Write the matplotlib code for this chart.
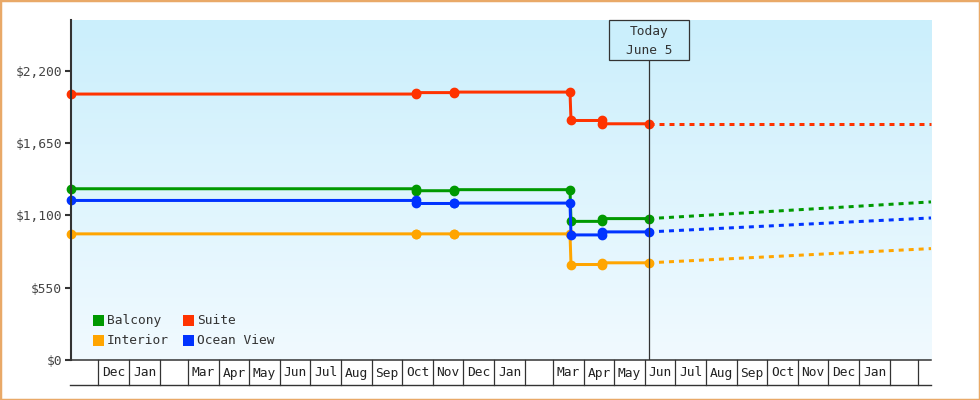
import matplotlib
matplotlib.use("Agg")
import matplotlib.pyplot as plt
import matplotlib.dates as mdates
import numpy as np
from datetime import date
from matplotlib.patches import Rectangle
from matplotlib.transforms import blended_transform_factory

# ---------------- data ----------------
series_names = ["Interior", "Balcony", "Ocean View", "Suite"]
series_colors = {"Balcony": "#009900", "Suite": "#ff3300",
                 "Interior": "#ffa500", "Ocean View": "#0033ff"}

price_dates = [date(2020, 11, 4), date(2021, 10, 15), date(2021, 10, 15),
               date(2021, 11, 22), date(2021, 11, 22), date(2022, 3, 18),
               date(2022, 3, 19), date(2022, 4, 19), date(2022, 4, 19),
               date(2022, 6, 5)]
balcony = [1302, 1302, 1287, 1287, 1295, 1295, 1054, 1054, 1075, 1075]
interior = [959, 959, 959, 959, 959, 959, 726, 726, 739, 739]
suite = [2022, 2022, 2033, 2033, 2037, 2037, 1821, 1821, 1796, 1796]
ocean_view = [1213, 1213, 1190, 1190, 1193, 1193, 951, 951, 974, 974]

projection_dates = [date(2022, 6, 5), date(2023, 3, 14)]
balcony_proj = [1075, 1202]
interior_proj = [739, 847]
suite_proj = [1796, 1796]
ocean_view_proj = [974, 1080]

today = date(2022, 6, 5)
x_start, x_end = date(2020, 11, 4), date(2023, 3, 14)
y_max = 2585
y_ticks = [0, 550, 1100, 1650, 2200]
y_tick_labels = ["$0", "$550", "$1,100", "$1,650", "$2,200"]

month_labels = ["Dec", "Jan", "", "Mar", "Apr", "May", "Jun", "Jul", "Aug",
                "Sep", "Oct", "Nov", "Dec", "Jan", "", "Mar", "Apr", "May",
                "Jun", "Jul", "Aug", "Sep", "Oct", "Nov", "Dec", "Jan", "", ""]

values = {"Balcony": balcony, "Interior": interior, "Suite": suite,
          "Ocean View": ocean_view}
proj = {"Balcony": balcony_proj, "Interior": interior_proj,
        "Suite": suite_proj, "Ocean View": ocean_view_proj}

# ---------------- figure ----------------
FONT = "DejaVu Sans Mono"
FS = 9.3
W, H = 980, 400
fig = plt.figure(figsize=(W / 100, H / 100), dpi=100)
fig.patch.set_facecolor("white")

L, T, R, B = 71, 20, 931, 360
ax = fig.add_axes([L / W, (H - B) / H, (R - L) / W, (B - T) / H])
ax.set_facecolor("none")

# gradient background
grad = np.linspace(0, 1, 256)[:, None]
top_c = np.array([203, 239, 252]) / 255
bot_c = np.array([241, 250, 255]) / 255
img = top_c[None, None, :] * (1 - grad[:, :, None]) + bot_c[None, None, :] * grad[:, :, None]
ax.imshow(img, extent=[0, 1, 0, 1], transform=ax.transAxes, aspect="auto",
          zorder=0, interpolation="bilinear")

xs = mdates.date2num(x_start)
xe = mdates.date2num(x_end)
ax.set_xlim(xs, xe)
ax.set_ylim(0, y_max)

lw = 2.16
for name in series_names:
    c = series_colors[name]
    ax.plot(mdates.date2num(price_dates), values[name], color=c, lw=lw,
            marker="o", ms=6, mec=c, mfc=c, zorder=3, clip_on=False,
            solid_joinstyle="miter")
    ax.plot(mdates.date2num(projection_dates), proj[name], color=c, lw=lw,
            linestyle=(0, (5 / 3, 5 / 3)), zorder=2, clip_on=False)

# spines / ticks
for s in ["top", "right"]:
    ax.spines[s].set_visible(False)
ax.spines["left"].set_color("#333333")
ax.spines["left"].set_linewidth(1.5)
ax.spines["bottom"].set_color("#333333")
ax.spines["bottom"].set_linewidth(1.1)
ax.spines["left"].set_zorder(5)
ax.set_yticks(y_ticks)
ax.set_yticklabels(y_tick_labels, fontfamily=FONT, fontsize=FS, color="#444444")
ax.tick_params(axis="y", direction="out", length=4.3, width=1.5,
               color="#333333", pad=2)
ax.set_xticks([])

# month cells below the axis
bt = blended_transform_factory(ax.transData, ax.transAxes)
cell_h = 25 / (B - T)
month_starts = []
y_, m_ = 2020, 12
while date(y_, m_, 1) <= x_end:
    month_starts.append(mdates.date2num(date(y_, m_, 1)))
    m_ += 1
    if m_ > 12:
        m_, y_ = 1, y_ + 1
for i, ms in enumerate(month_starts):
    ax.plot([ms, ms], [0, -cell_h], transform=bt, color="#333333", lw=0.9,
            clip_on=False, zorder=5)
    nxt = month_starts[i + 1] if i + 1 < len(month_starts) else xe
    lab = month_labels[i]
    if lab:
        ax.text((ms + nxt) / 2, -13 / (B - T), lab, transform=bt, ha="center",
                va="center", fontfamily=FONT, fontsize=FS, color="#222222")
ax.plot([-1 / (R - L), 1], [-cell_h, -cell_h], transform=ax.transAxes,
        color="#333333", lw=1.0, clip_on=False, zorder=5)

# today marker
tn = mdates.date2num(today)
box_bottom = (B - 60) / (B - T)
ax.plot([tn, tn], [0, box_bottom], transform=bt, color="#333333", lw=0.9,
        zorder=4)
ax.add_patch(Rectangle((tn - 40, box_bottom), 80, 1 - box_bottom, transform=bt,
                       facecolor=top_c, edgecolor="#333333", lw=0.9,
                       zorder=6, clip_on=False))
ax.text(tn, (B - 32) / (B - T), "Today", transform=bt, ha="center", va="center",
        fontfamily=FONT, fontsize=FS, color="#333333", zorder=7)
ax.text(tn, (B - 50) / (B - T), f"June {today.day}", transform=bt, ha="center",
        va="center", fontfamily=FONT, fontsize=FS, color="#333333", zorder=7)

# legend (manual, 2 columns)
legend_order = [["Balcony", "Interior"], ["Suite", "Ocean View"]]
col_x = [93, 183]
row_y = [320.3, 340.3]
sq = 11
for ci, col in enumerate(legend_order):
    for ri, name in enumerate(col):
        x0 = (col_x[ci] - L) / (R - L)
        yc = (B - row_y[ri]) / (B - T)
        ax.add_patch(Rectangle((x0, yc - sq / 2 / (B - T)), sq / (R - L),
                               sq / (B - T), transform=ax.transAxes,
                               facecolor=series_colors[name], edgecolor="none",
                               zorder=6))
        ax.text(x0 + (sq + 3) / (R - L), yc, name, transform=ax.transAxes,
                ha="left", va="center", fontfamily=FONT, fontsize=FS,
                color="#333333", zorder=6)

# figure border
fig.add_artist(Rectangle((0, 0), 1, 1, transform=fig.transFigure, fill=False,
                         edgecolor="#e9a968", lw=2.5, clip_on=True))

fig.savefig("out.png", dpi=100)
